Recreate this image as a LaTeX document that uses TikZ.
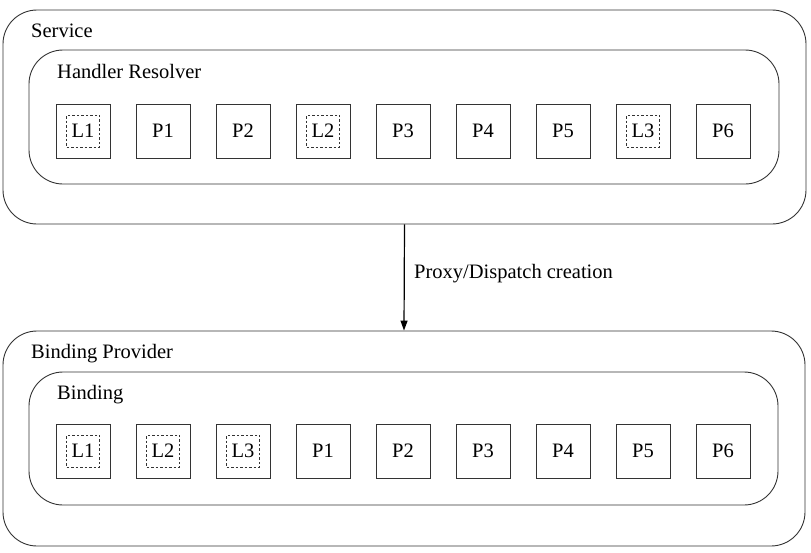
\documentclass[tikz,border=0pt]{standalone}
\usepackage{fontspec}
\setmainfont{Liberation Serif}
\usetikzlibrary{arrows.meta, positioning}

\begin{document}
\begin{tikzpicture}[
      x=1pt, y=-1pt,
      every node/.style={font=\fontsize{20.5}{24}\selectfont},
      frame/.style={draw=black!80, line width=0.9pt, rounded corners=34pt, inner sep=0pt},
      slot/.style={draw=black!80, line width=0.9pt, minimum size=54pt, inner sep=0pt},
      lib/.style={draw=black!80, line width=0.7pt, dash pattern=on 2.5pt off 2pt, minimum width=33pt, minimum height=32pt, inner sep=0pt},
      tag/.style={anchor=base west, inner sep=0pt},
      arr/.style={-{Triangle[length=10pt, width=7pt]}, line width=1.2pt}
    ]
      \useasboundingbox (0,0) rectangle (811,552);

      % Service side
      \node[frame, minimum width=803pt, minimum height=214pt] (svc) at (404.5,117) {};
      \node[frame, minimum width=750pt, minimum height=134pt] (hres) at (404,117) {};
      \node[tag] (svctag) at (31,37.5) {Service};
      \node[tag] (hrestag) at (57,78) {Handler Resolver};

      \node[slot] (hl1) at (83,131) {};
      \node[lib] (hl1t) at (hl1) {L1};
      \node[slot] (hp1) at (163,131) {P1};
      \node[slot] (hp2) at (243,131) {P2};
      \node[slot] (hl2) at (323,131) {};
      \node[lib] (hl2t) at (hl2) {L2};
      \node[slot] (hp3) at (403,131) {P3};
      \node[slot] (hp4) at (483,131) {P4};
      \node[slot] (hp5) at (563,131) {P5};
      \node[slot] (hl3) at (643,131) {};
      \node[lib] (hl3t) at (hl3) {L3};
      \node[slot] (hp6) at (723,131) {P6};

      % Binding side
      \node[frame, minimum width=802pt, minimum height=215pt] (bprov) at (404,438.5) {};
      \node[frame, minimum width=749pt, minimum height=133pt] (bind) at (403.5,438.5) {};
      \node[tag] (bprovtag) at (31,358) {Binding Provider};
      \node[tag] (bindtag) at (57,399) {Binding};

      \node[slot] (bl1) at (83,451) {};
      \node[lib] (bl1t) at (bl1) {L1};
      \node[slot] (bl2) at (163,451) {};
      \node[lib] (bl2t) at (bl2) {L2};
      \node[slot] (bl3) at (243,451) {};
      \node[lib] (bl3t) at (bl3) {L3};
      \node[slot] (bp1) at (323,451) {P1};
      \node[slot] (bp2) at (403,451) {P2};
      \node[slot] (bp3) at (483,451) {P3};
      \node[slot] (bp4) at (563,451) {P4};
      \node[slot] (bp5) at (643,451) {P5};
      \node[slot] (bp6) at (723,451) {P6};

      \draw[arr] (svc.south) -- node[right=6pt, pos=0.46] {Proxy/Dispatch creation} (bprov.north);
    \end{tikzpicture}
\end{document}
